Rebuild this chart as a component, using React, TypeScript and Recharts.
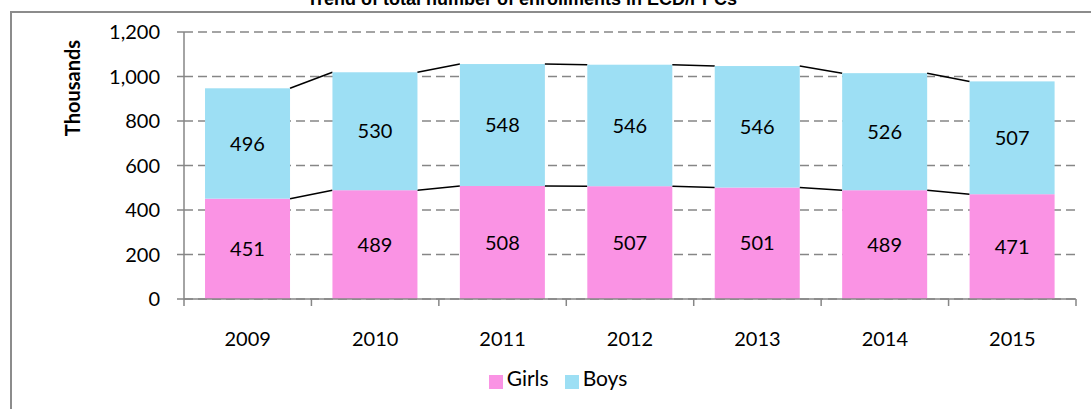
import { BarChart, Bar, XAxis, YAxis, CartesianGrid, Legend, LabelList } from "recharts";

const years = ["2009", "2010", "2011", "2012", "2013", "2014", "2015"];
const girls = [451, 489, 508, 507, 501, 489, 471];
const boys = [496, 530, 548, 546, 546, 526, 507];
const yTicks = [0, 200, 400, 600, 800, 1000, 1200];
const seriesOrder = ["Girls", "Boys"];

const data = years.map((year, i) => ({ year, girls: girls[i], boys: boys[i] }));

const W = 1091;
const H = 409;
const margin = { top: 32, right: 15, bottom: 35, left: 124 };
const Y_AXIS_W = 60;
const step = (W - margin.left - Y_AXIS_W - margin.right) / years.length;

const PINK = "#fa93e4";
const BLUE = "#9ddff4";
const AXIS = "#868686";
const FONT = "Lato, 'Noto Sans', sans-serif";

// bar segment + Excel-style series line to the next bar's segment top
function segmentShape(key: "girls" | "boys") {
  return (props: any) => {
    const { x, y, width, height, index, fill } = props;
    const k = height / (key === "girls" ? girls[index] : boys[index]);
    const base = y + height + (key === "boys" ? girls[index] * k : 0);
    let line = null;
    if (index < years.length - 1) {
      const next = key === "girls" ? girls[index + 1] : girls[index + 1] + boys[index + 1];
      line = (
        <line x1={x + width} y1={y} x2={x + step} y2={base - next * k} stroke="#000" strokeWidth={1.5} />
      );
    }
    return (
      <g>
        <rect x={x} y={y} width={width} height={height} fill={fill} />
        {line}
      </g>
    );
  };
}

function YearTick(props: any) {
  const { x, y, payload, index } = props;
  return (
    <g>
      <line x1={x - step / 2} y1={y} x2={x - step / 2} y2={y + 7} stroke={AXIS} strokeWidth={1.5} />
      {index === years.length - 1 && (
        <line x1={x + step / 2} y1={y} x2={x + step / 2} y2={y + 7} stroke={AXIS} strokeWidth={1.5} />
      )}
      <text x={x} y={y + 47} textAnchor="middle" fill="#000" fontSize={20} fontFamily={FONT}>
        {payload.value}
      </text>
    </g>
  );
}

export default function App() {
  return (
    <div style={{ position: "absolute", left: 0, top: 0, width: W, height: H, overflow: "hidden", background: "#fff" }}>
      <div
        style={{
          position: "absolute",
          left: 10,
          top: 11,
          width: W + 20,
          height: H + 20,
          border: "2px solid #8c8c8c",
        }}
      />
      <svg style={{ position: "absolute", left: 0, top: 0 }} width={W} height={20}>
        <text x={522} y={5} textAnchor="middle" fontSize={18} fontWeight="bold" fontFamily="'Liberation Sans', Arial, sans-serif">
          Trend of total number of enrollments in ECD/PPCs
        </text>
      </svg>
      <div style={{ position: "absolute", left: 0, top: 0 }}>
        <BarChart width={W} height={H} data={data} margin={margin} barCategoryGap="16.5%">
          <CartesianGrid vertical={false} stroke={AXIS} strokeDasharray="9 5" strokeWidth={1.5} />
          <XAxis
            dataKey="year"
            tickLine={false}
            tickSize={0}
            tickMargin={0}
            height={50}
            axisLine={{ stroke: AXIS, strokeWidth: 1.5 }}
            tick={<YearTick />}
            interval={0}
          />
          <YAxis
            width={Y_AXIS_W}
            domain={[0, 1200]}
            ticks={yTicks}
            tickSize={7}
            tickMargin={17}
            axisLine={{ stroke: AXIS, strokeWidth: 1.5 }}
            tickLine={{ stroke: AXIS, strokeWidth: 1.5 }}
            tick={{ fill: "#000", fontSize: 20, fontFamily: FONT }}
            tickFormatter={(v: number) => v.toLocaleString("en-US")}
            label={{
              content: (p: any) => {
                const vb = p.viewBox;
                const cx = vb.x - 52;
                const cy = vb.y + 56;
                return (
                  <text
                    x={cx}
                    y={cy}
                    transform={`rotate(-90 ${cx} ${cy})`}
                    textAnchor="middle"
                    dominantBaseline="central"
                    fontSize={20}
                    fontWeight="bold"
                    fontFamily={FONT}
                    fill="#000"
                  >
                    Thousands
                  </text>
                );
              },
            }}
          />
          <Legend
            verticalAlign="bottom"
            iconType="square"
            iconSize={14}
            itemSorter={(item: any) => seriesOrder.indexOf(item.value)}
            wrapperStyle={{ top: 365, left: 0, width: 1126 }}
            formatter={(v: string) => (
              <span style={{ color: "#000", fontSize: 21, fontFamily: FONT, marginRight: v === "Girls" ? 6 : 0 }}>{v}</span>
            )}
          />
          <Bar dataKey="girls" name="Girls" stackId="a" fill={PINK} isAnimationActive={false} shape={segmentShape("girls")}>
            <LabelList dataKey="girls" position="center" fill="#000" fontSize={20} fontFamily={FONT} />
          </Bar>
          <Bar dataKey="boys" name="Boys" stackId="a" fill={BLUE} isAnimationActive={false} shape={segmentShape("boys")}>
            <LabelList dataKey="boys" position="center" fill="#000" fontSize={20} fontFamily={FONT} />
          </Bar>
        </BarChart>
      </div>
    </div>
  );
}
